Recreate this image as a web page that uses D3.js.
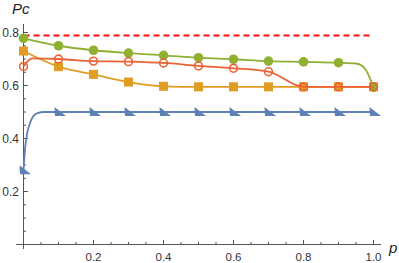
<!DOCTYPE html>
<html><head><meta charset="utf-8">
<script src="https://cdn.jsdelivr.net/npm/d3@7"></script>
<style>body{margin:0;background:#fff}svg{display:block}text{font-family:"Liberation Sans",Arial,sans-serif}</style>
</head><body><svg id="c" width="399" height="263"></svg>
<script>
const pMarks = [0,0.1,0.2,0.3,0.4,0.5,0.6,0.7,0.8,0.9,1.0];
const greenMarks = [0.778,0.750,0.733,0.722,0.714,0.705,0.699,0.692,0.689,0.686,0.594];
const greenLine = [[0,0.778],[0.1,0.750],[0.2,0.733],[0.3,0.722],[0.4,0.714],[0.5,0.705],[0.6,0.699],[0.7,0.692],[0.8,0.689],[0.9,0.686],[0.95,0.683],[0.975,0.665],[1.0,0.594]];
const orangeMarks = [0.730,0.671,0.642,0.613,0.597,0.595,0.595,0.595,0.595,0.595,0.595];
const redMarks = [0.672,0.700,0.692,0.690,0.685,0.674,0.665,0.652,0.595,0.595,0.595];
const redLine = [[0,0.672],[0.025,0.702],[0.1,0.700],[0.2,0.692],[0.3,0.690],[0.4,0.685],[0.5,0.674],[0.6,0.665],[0.7,0.652],[0.8,0.595],[0.9,0.595],[1.0,0.595]];
const blueMarks = [0.28,0.5,0.5,0.5,0.5,0.5,0.5,0.5,0.5,0.5,0.5];
const blueLine = [[0,0.28],[0.005,0.37],[0.019,0.46],[0.038,0.495],[0.06,0.5],[0.1,0.5],[0.2,0.5],[0.4,0.5],[0.6,0.5],[0.8,0.5],[1.0,0.5]];
const dashedLevel = 0.789;
const xTickLabels = ["0.2","0.4","0.6","0.8","1.0"];
const yTickLabels = ["0.2","0.4","0.6","0.8"];

const svg = d3.select("#c");
const x = d3.scaleLinear().domain([0,1]).range([23.5,373.5]);
const y = d3.scaleLinear().domain([0,0.8]).range([244.5,32.5]);
const axisCol = "#555";

svg.append("line").attr("x1",16).attr("x2",381).attr("y1",y(0)).attr("y2",y(0)).attr("stroke",axisCol).attr("stroke-width",1);
svg.append("line").attr("x1",x(0)).attr("x2",x(0)).attr("y1",249).attr("y2",24).attr("stroke",axisCol).attr("stroke-width",1);

d3.range(0,1.001,0.05).forEach(v=>{
  const major = Math.abs(v*5-Math.round(v*5))<1e-6;
  svg.append("line").attr("x1",x(v)).attr("x2",x(v)).attr("y1",y(0)).attr("y2",y(0)-(major?4.5:2.5)).attr("stroke",axisCol);
});
d3.range(0,0.8301,0.05).forEach(v=>{
  const major = Math.abs(v*5-Math.round(v*5))<1e-6;
  svg.append("line").attr("y1",y(v)).attr("y2",y(v)).attr("x1",x(0)).attr("x2",x(0)+(major?4.5:2.5)).attr("stroke",axisCol);
});
xTickLabels.forEach(t=>{
  svg.append("text").attr("x",x(+t)).attr("y",260.5).attr("text-anchor","middle").attr("font-size",11.5).attr("fill","#333").text(t);
});
yTickLabels.forEach(t=>{
  svg.append("text").attr("x",19).attr("y",y(+t)+4.5).attr("text-anchor","end").attr("font-size",12).attr("fill","#333").text(t);
});
svg.append("text").attr("x",12).attr("y",14).attr("font-size",15).attr("font-style","italic").attr("fill","#222").text("Pc");
svg.append("text").attr("x",389).attr("y",253).attr("font-size",15).attr("font-style","italic").attr("fill","#222").text("p");

svg.append("line").attr("x1",x(0)).attr("x2",x(1)).attr("y1",y(dashedLevel)).attr("y2",y(dashedLevel))
  .attr("stroke","#ff0f0f").attr("stroke-width",2).attr("stroke-dasharray","6,4");

const line = d3.line().x(d=>x(d[0])).y(d=>y(d[1])).curve(d3.curveMonotoneX);
const cols = {blue:"#5E81B5",orange:"#E19C24",green:"#8FB032",red:"#EB6235"};

function drawLine(data,col){
  svg.append("path").datum(data).attr("d",line).attr("fill","none").attr("stroke",col).attr("stroke-width",1.8);
}
drawLine(blueLine,cols.blue);
svg.append("g").selectAll("path").data(pMarks.map((p,i)=>[p,blueMarks[i]])).join("path")
  .attr("transform",d=>`translate(${x(d[0])},${y(d[1])})`)
  .attr("d","M-4,-5 L-3.5,4 L7.5,4 Z").attr("fill",cols.blue);
drawLine(pMarks.map((p,i)=>[p,orangeMarks[i]]),cols.orange);
svg.append("g").selectAll("rect").data(pMarks.map((p,i)=>[p,orangeMarks[i]])).join("rect")
  .attr("x",d=>x(d[0])-4.5).attr("y",d=>y(d[1])-4.5).attr("width",9).attr("height",9).attr("fill",cols.orange);
drawLine(greenLine,cols.green);
svg.append("g").selectAll("circle").data(pMarks.map((p,i)=>[p,greenMarks[i]])).join("circle")
  .attr("cx",d=>x(d[0])).attr("cy",d=>y(d[1])).attr("r",4.8).attr("fill",cols.green);
drawLine(redLine,cols.red);
svg.append("g").selectAll("circle").data(pMarks.map((p,i)=>[p,redMarks[i]])).join("circle")
  .attr("cx",d=>x(d[0])).attr("cy",d=>y(d[1])).attr("r",3.9).attr("fill","none").attr("stroke",cols.red).attr("stroke-width",1.6);
</script></body></html>
